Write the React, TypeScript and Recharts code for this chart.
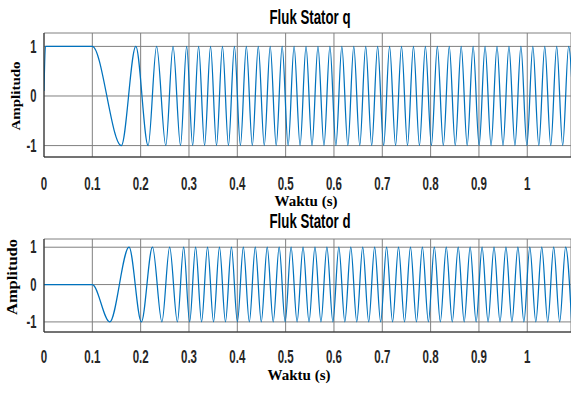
import { LineChart, Line, XAxis, YAxis, CartesianGrid } from 'recharts'

// tick positions / labels (shared by both panels)
const xTicks = [0, 0.1, 0.2, 0.3, 0.4, 0.5, 0.6, 0.7, 0.8, 0.9, 1]
const xTickLabels = ['0', '0.1', '0.2', '0.3', '0.4', '0.5', '0.6', '0.7', '0.8', '0.9', '1']
const yTicks = [-1, 0, 1]
const yTickLabels = ['-1', '0', '1']

// Fluk Stator q: lead-in, then times of the peaks (+1) and troughs (-1)
const qStartTimes = [0, 0.003, 0.1]
const qStartValues = [0.1, 1, 1]
const qMaxTimes = [
  0.19, 0.233, 0.267, 0.2952, 0.3199, 0.3446, 0.3693, 0.394, 0.4187, 0.4434, 0.4681, 0.4928,
  0.5175, 0.5422, 0.5669, 0.5916, 0.6163, 0.641, 0.6657, 0.6904, 0.7151, 0.7398, 0.7645,
  0.7892, 0.8139, 0.8386, 0.8633, 0.888, 0.9127, 0.9374, 0.9621, 0.9868, 1.0115, 1.0362,
  1.0609, 1.0856,
]
const qMinTimes = [
  0.16, 0.2155, 0.252, 0.2825, 0.3076, 0.3323, 0.357, 0.3817, 0.4064, 0.4311, 0.4558, 0.4805,
  0.5052, 0.5299, 0.5546, 0.5793, 0.604, 0.6287, 0.6534, 0.6781, 0.7028, 0.7275, 0.7522,
  0.7769, 0.8016, 0.8263, 0.851, 0.8757, 0.9004, 0.9251, 0.9498, 0.9745, 0.9992, 1.0239,
  1.0486, 1.0733, 1.098,
]

// Fluk Stator d
const dStartTimes = [0, 0.1]
const dStartValues = [0, 0]
const dMaxTimes = [
  0.176, 0.2245, 0.26, 0.289, 0.3137, 0.3384, 0.3631, 0.3878, 0.4125, 0.4372, 0.4619, 0.4866,
  0.5113, 0.536, 0.5607, 0.5854, 0.6101, 0.6348, 0.6595, 0.6842, 0.7089, 0.7336, 0.7583,
  0.783, 0.8077, 0.8324, 0.8571, 0.8818, 0.9065, 0.9312, 0.9559, 0.9806, 1.0053, 1.03,
  1.0547, 1.0794,
]
const dMinTimes = [
  0.136, 0.2015, 0.244, 0.276, 0.3014, 0.3261, 0.3508, 0.3755, 0.4002, 0.4249, 0.4496, 0.4743,
  0.499, 0.5237, 0.5484, 0.5731, 0.5978, 0.6225, 0.6472, 0.6719, 0.6966, 0.7213, 0.746,
  0.7707, 0.7954, 0.8201, 0.8448, 0.8695, 0.8942, 0.9189, 0.9436, 0.9683, 0.993, 1.0177,
  1.0424, 1.0671, 1.0918,
]

const SANS = '"Liberation Sans", Arial, sans-serif'
const SERIF = '"Liberation Serif", "Times New Roman", serif'
const BLUE = '#0072BD'
const INK = '#262626'
const X_MAX = 1.0905

function buildSeries(startT: number[], startV: number[], maxT: number[], minT: number[]) {
  const pts = [
    ...startT.map((t, i) => ({ t, v: startV[i] })),
    ...maxT.map(t => ({ t, v: 1 })),
    ...minT.map(t => ({ t, v: -1 })),
  ]
  return pts.sort((a, b) => a.t - b.t)
}

const qData = buildSeries(qStartTimes, qStartValues, qMaxTimes, qMinTimes)
const dData = buildSeries(dStartTimes, dStartValues, dMaxTimes, dMinTimes)

const makeXTick = (offset: number) => ({ x, y, payload }: any) => {
  const idx = xTicks.indexOf(payload.value)
  return (
    <text
      transform={`translate(${x},${y + offset}) scale(0.64,1)`}
      textAnchor="middle"
      fontFamily={SANS}
      fontWeight="bold"
      fontSize={18}
      fill={INK}
    >
      {idx >= 0 ? xTickLabels[idx] : payload.value}
    </text>
  )
}

const YTick = ({ x, y, payload }: any) => {
  const idx = yTicks.indexOf(payload.value)
  return (
    <text
      transform={`translate(${x - 7.5},${y + 6.2}) scale(0.64,1)`}
      textAnchor="end"
      fontFamily={SANS}
      fontWeight="bold"
      fontSize={17.5}
      fill={INK}
    >
      {idx >= 0 ? yTickLabels[idx] : payload.value}
    </text>
  )
}

interface PanelProps {
  data: { t: number; v: number }[]
  top: number
  height: number
  yDomain: [number, number]
  tickOffset: number
}

function Panel({ data, top, height, yDomain, tickOffset }: PanelProps) {
  return (
    <div style={{ position: 'absolute', left: 0, top }}>
      <LineChart width={571} height={height} data={data} margin={{ top: 33, right: 0, left: 0, bottom: 0 }}>
        <CartesianGrid stroke="#808080" strokeWidth={1} />
        <XAxis
          dataKey="t"
          type="number"
          domain={[0, X_MAX]}
          ticks={xTicks}
          allowDataOverflow
          height={40}
          tickSize={0}
          tickMargin={0}
          tickLine={false}
          axisLine={{ stroke: INK }}
          tick={makeXTick(tickOffset)}
          interval={0}
        />
        <XAxis xAxisId="top" orientation="top" type="number" domain={[0, X_MAX]} height={0} tick={false} tickLine={false} axisLine={{ stroke: INK }} />
        <YAxis
          type="number"
          domain={yDomain}
          ticks={yTicks}
          allowDataOverflow
          width={44}
          tickSize={0}
          tickMargin={0}
          tickLine={false}
          axisLine={{ stroke: INK }}
          tick={<YTick />}
          interval={0}
        />
        <Line type="monotone" dataKey="v" stroke={BLUE} strokeWidth={1.25} dot={false} isAnimationActive={false} />
      </LineChart>
    </div>
  )
}

export default function App() {
  return (
    <div style={{ position: 'absolute', left: 0, top: 0, width: 571, height: 396, background: '#fff', overflow: 'hidden' }}>
      <Panel data={qData} top={0} height={197} yDomain={[-1.23, 1.27]} tickOffset={33} />
      <Panel data={dData} top={206} height={166} yDomain={[-1.27, 1.22]} tickOffset={31} />
      <svg width={571} height={396} style={{ position: 'absolute', left: 0, top: 0, pointerEvents: 'none' }}>
        <text transform="translate(310,24) scale(0.68,1)" textAnchor="middle" fontFamily={SANS} fontWeight="bold" fontSize={19.5} fill="#000">
          Fluk Stator q
        </text>
        <text transform="translate(310,228) scale(0.68,1)" textAnchor="middle" fontFamily={SANS} fontWeight="bold" fontSize={19.5} fill="#000">
          Fluk Stator d
        </text>
        <text x={306} y={206} textAnchor="middle" fontFamily={SERIF} fontWeight="bold" fontSize={15} fill="#000">
          Waktu (s)
        </text>
        <text x={299} y={380} textAnchor="middle" fontFamily={SERIF} fontWeight="bold" fontSize={15} fill="#000">
          Waktu (s)
        </text>
        <text transform="translate(20.2,96) scale(0.78,1) rotate(-90)" textAnchor="middle" fontFamily={SERIF} fontWeight="bold" fontSize={15} fill="#000">
          Amplitudo
        </text>
        <text transform="translate(16.6,277) scale(0.88,1) rotate(-90)" textAnchor="middle" fontFamily={SERIF} fontWeight="bold" fontSize={16.5} fill="#000">
          Amplitudo
        </text>
      </svg>
    </div>
  )
}
